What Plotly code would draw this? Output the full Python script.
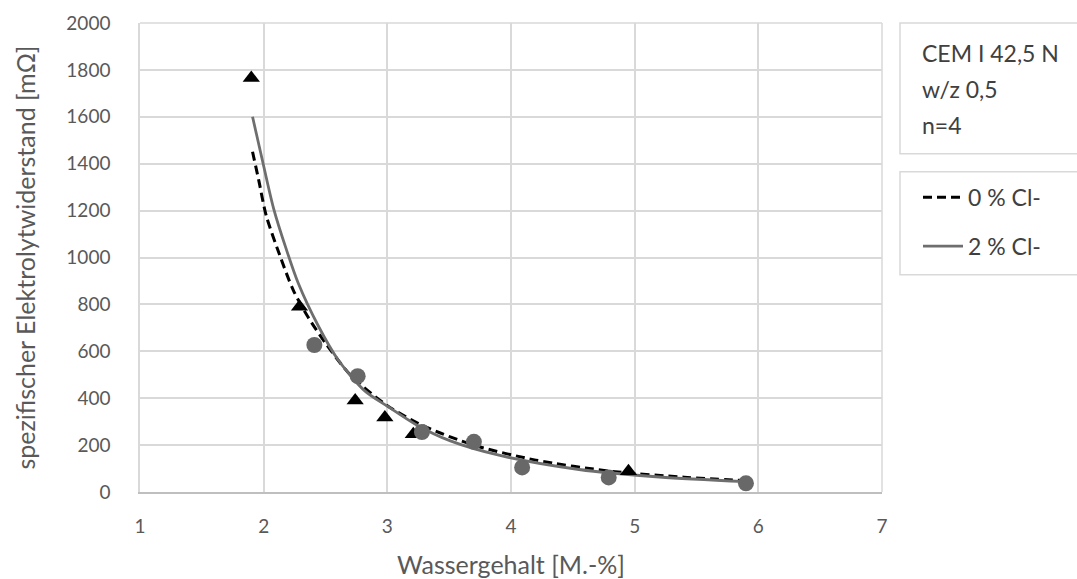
import plotly.graph_objects as go

# ---- data ----
tri_x = [1.90, 2.29, 2.74, 2.98, 3.21, 4.95]          # 0 % Cl- measurements
tri_y = [1765, 790, 390, 318, 246, 89]
circ_x = [2.41, 2.76, 3.28, 3.70, 4.09, 4.79, 5.90]   # 2 % Cl- measurements
circ_y = [627, 494, 256, 214, 105, 62, 37]

fit0_x = [1.91, 1.96, 2.02, 2.13, 2.24, 2.36, 2.50, 2.70, 3.00, 3.30, 3.70, 4.20, 4.80, 5.40, 5.90]
fit0_y = [1451, 1330, 1180, 1010, 860, 745, 635, 500, 368, 280, 200, 136, 89, 63, 48]
fit2_x = [1.91, 2.00, 2.08, 2.18, 2.28, 2.44, 2.60, 2.82, 3.00, 3.24, 3.51, 3.91, 4.55, 5.20, 5.90]
fit2_y = [1600, 1390, 1210, 1040, 890, 710, 565, 430, 366, 285, 218, 156, 96, 64, 44]

x_ticks = [1, 2, 3, 4, 5, 6, 7]
y_ticks = [0, 200, 400, 600, 800, 1000, 1200, 1400, 1600, 1800, 2000]
info_lines = ["CEM I 42,5 N", "w/z 0,5", "n=4"]
legend_names = ["0 % Cl-", "2 % Cl-"]

W, H = 1077, 579
L, R, T, B = 140, 882, 23, 492.5
FONT = "Lato"
GRID = "#d9d9d9"
TXT = "#595959"

def px(xp):
    return (xp - L) / (R - L)

def py(yp):
    return (B - yp) / (B - T)

fig = go.Figure()
fig.add_trace(go.Scatter(x=fit0_x, y=fit0_y, mode="lines", name=legend_names[0],
                         line=dict(color="black", width=3, dash="9px,5px", shape="spline", smoothing=0.8),
                         legendgroup="a"))
fig.add_trace(go.Scatter(x=fit2_x, y=fit2_y, mode="lines", name=legend_names[1],
                         line=dict(color="#6e6e6e", width=2.8, shape="spline", smoothing=0.8),
                         legendgroup="b"))
fig.add_trace(go.Scatter(x=tri_x, y=tri_y, mode="markers", showlegend=False,
                         marker=dict(symbol="triangle-up", size=15, color="black")))
fig.add_trace(go.Scatter(x=circ_x, y=circ_y, mode="markers", showlegend=False,
                         marker=dict(symbol="circle", size=16, color="#686868")))

fig.update_layout(
    width=W, height=H,
    margin=dict(l=L, r=W - R, t=T, b=H - B, autoexpand=False),
    paper_bgcolor="white", plot_bgcolor="white",
    font=dict(family=FONT, size=18, color=TXT),
    showlegend=True,
    legend=dict(x=px(918), y=py(176), xanchor="left", yanchor="top",
                bgcolor="rgba(0,0,0,0)", borderwidth=0,
                font=dict(family=FONT, size=23, color="#404040"),
                tracegroupgap=16, itemwidth=40),
    xaxis=dict(range=[1, 7], tickvals=x_ticks, ticktext=[str(v) for v in x_ticks],
               showgrid=True, gridcolor=GRID, gridwidth=1.5, zeroline=False,
               showline=True, linecolor="#bfbfbf", linewidth=1.5, mirror=False,
               ticks="", ticklabelstandoff=16, automargin=False,
               tickfont=dict(family=FONT, size=19, color=TXT),
               title=dict(text="Wassergehalt [M.-%]", standoff=22,
                          font=dict(family=FONT, size=25, color=TXT))),
    yaxis=dict(range=[0, 2000], tickvals=y_ticks, ticktext=[str(v) for v in y_ticks],
               showgrid=True, gridcolor=GRID, gridwidth=1.5, zeroline=False,
               showline=True, linecolor=GRID, linewidth=1.5,
               ticks="", ticklabelstandoff=24, automargin=False,
               tickfont=dict(family=FONT, size=19, color=TXT),
               title=dict(text="spezifischer Elektrolytwiderstand [mΩ]", standoff=24,
                          font=dict(family=FONT, size=25, color=TXT))),
)

# right and top border of the plot area
fig.add_shape(type="line", xref="paper", yref="paper", x0=1, x1=1, y0=0, y1=1,
              line=dict(color=GRID, width=1.5))
fig.add_shape(type="line", xref="paper", yref="paper", x0=0, x1=1, y0=1, y1=1,
              line=dict(color=GRID, width=1.5))

# info box
fig.add_shape(type="rect", xref="paper", yref="paper",
              x0=px(900), x1=px(1085), y0=py(154), y1=py(23),
              line=dict(color=GRID, width=1.5), fillcolor="rgba(0,0,0,0)")
for i, t in enumerate(info_lines):
    fig.add_annotation(text=t, xref="paper", yref="paper", x=px(920), y=py(53 + 36 * i),
                       xanchor="left", yanchor="middle", showarrow=False,
                       font=dict(family=FONT, size=23, color="#404040"))

# legend box
fig.add_shape(type="rect", xref="paper", yref="paper",
              x0=px(900), x1=px(1085), y0=py(275), y1=py(172),
              line=dict(color=GRID, width=1.5), fillcolor="rgba(0,0,0,0)")

fig.write_html("out.html")
